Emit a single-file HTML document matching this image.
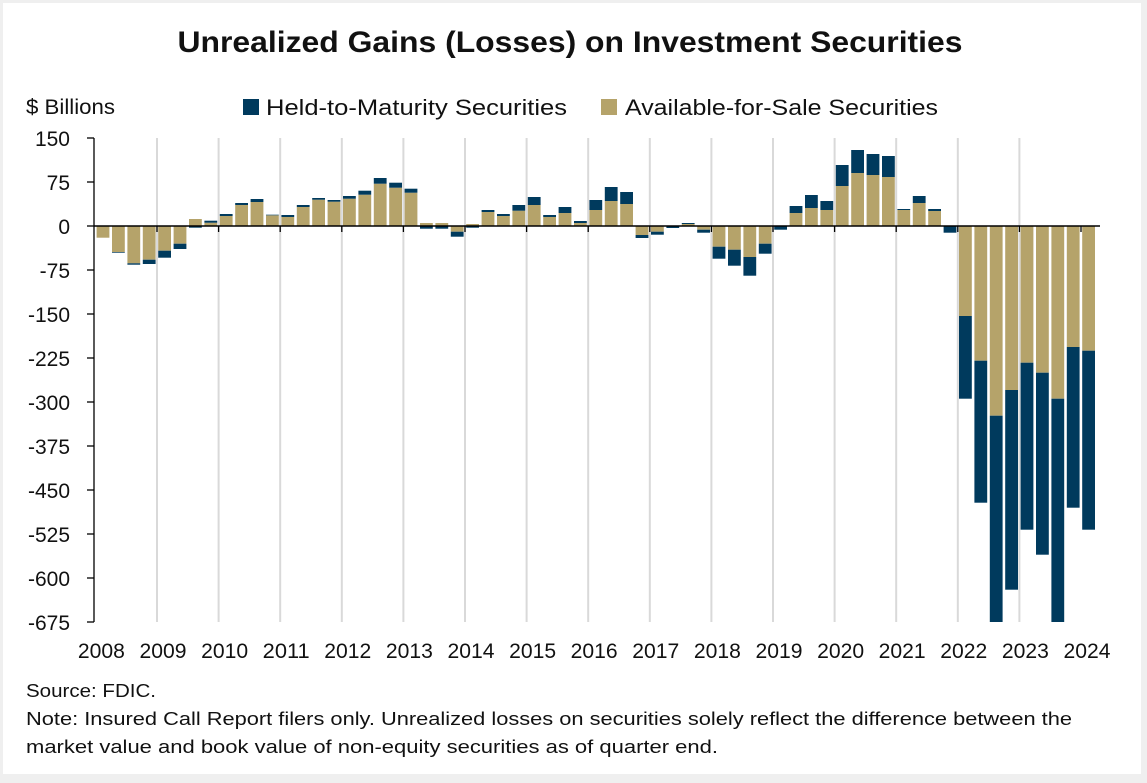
<!DOCTYPE html>
<html><head><meta charset="utf-8"><style>
html,body{margin:0;padding:0;background:#efefef;}
#c{position:absolute;left:3px;top:3px;width:1138px;height:771px;background:#fff;}
svg{position:absolute;left:0;top:0;}
text{font-family:"Liberation Sans",sans-serif;fill:#111;}
</style></head><body><div id="c"></div>
<svg id="s" width="1147" height="783" viewBox="0 0 1147 783" xmlns="http://www.w3.org/2000/svg">
<text x="570" y="52" text-anchor="middle" font-size="30" font-weight="bold" textLength="785" lengthAdjust="spacingAndGlyphs">Unrealized Gains (Losses) on Investment Securities</text>
<text x="26" y="114" font-size="21" textLength="89" lengthAdjust="spacingAndGlyphs">$ Billions</text>
<rect x="243" y="99" width="16" height="16" fill="#003a5d"/>
<text x="266" y="115" font-size="22" textLength="301" lengthAdjust="spacingAndGlyphs">Held-to-Maturity Securities</text>
<rect x="601" y="99" width="16" height="16" fill="#b5a36a"/>
<text x="625" y="115" font-size="22" textLength="313" lengthAdjust="spacingAndGlyphs">Available-for-Sale Securities</text>
<g id="grid"></g><g id="bars"></g><g id="axes"></g>
<text x="26" y="697" font-size="18" textLength="130" lengthAdjust="spacingAndGlyphs">Source: FDIC.</text>
<text x="26" y="725" font-size="18" textLength="1046" lengthAdjust="spacingAndGlyphs">Note: Insured Call Report filers only. Unrealized losses on securities solely reflect the difference between the</text>
<text x="26" y="753" font-size="18" textLength="692" lengthAdjust="spacingAndGlyphs">market value and book value of non-equity securities as of quarter end.</text>
</svg>
<script>
var NS="http://www.w3.org/2000/svg";
function el(p,t,a,txt){var e=document.createElementNS(NS,t);for(var k in a)e.setAttribute(k,a[k]);if(txt!=null)e.textContent=txt;document.getElementById(p).appendChild(e);}
var Z=226,X0=95.4,YW=61.6,BOT=622;
var d=[[-11.7,-11.7],[-26,-26.7],[-37.3,-38.7],[-33.7,-38],
[-24.7,-31.7],[-17.7,-23],[7,-1.7],[3.3,5.3],
[10,12],[21,23],[24,27],[10.7,11.3],
[9,11],[19,21],[26.3,28],[24.3,26],
[27.3,30],[31.3,35.3],[42.3,48],[38.3,43.3],
[33.3,37.3],[3,-2.7],[3,-2.7],[-5.7,-10.7],
[2,-1.7],[14,16],[10,12],[15.3,21],
[21,29],[9,11],[13,19],[3,5],
[16,26],[25,39],[22,34],[-9,-12],
[-5.7,-8.7],[0,-2],[2,3],[-3.7,-6.7],
[-20.7,-32.7],[-23.7,-39.7],[-31,-49.7],[-17.7,-27.7],
[0,-3.7],[13,20],[18,31],[16,25],
[40,61],[53,76],[51,72],[49,70],
[16,17],[23,30],[15,17],[0,-6.7],
[-90,-172.7],[-134.7,-276.7],[-189.7,-400],[-164,-363.7],
[-136.7,-303.7],[-146.7,-328.7],[-172.7,-400],[-121,-281.7],
[-124.7,-303.7]];
for(var k=1;k<=15;k++){var gx=X0+YW*k;el("grid","line",{x1:gx,x2:gx,y1:138,y2:622,stroke:"#d9d9d9","stroke-width":2});}
function seg(y1,y2,c,x){var a=Math.min(y1,y2),b=Math.max(y1,y2);b=Math.min(b,BOT);if(b-a<0.2)return;el("bars","rect",{x:x,y:a,width:12.8,height:b-a,fill:c});}
d.forEach(function(v,i){var x=X0+YW*Math.floor(i/4)+1.2+(i%4)*15.4;var A=v[0],E=v[1];
 seg(Z,Z-A,"#b5a36a",x);
 if(A===0||(A>0)===(E>0)) seg(Z-A,Z-E,"#003a5d",x); else seg(Z,Z-E,"#003a5d",x);});
el("axes","line",{x1:94,x2:94,y1:138,y2:622,stroke:"#000","stroke-width":1.3});
el("axes","line",{x1:94,x2:1100,y1:Z,y2:Z,stroke:"#000","stroke-width":1.5});
for(var k=1;k<=16;k++){var gx=X0+YW*k;el("axes","line",{x1:gx,x2:gx,y1:Z,y2:Z+6,stroke:"#000","stroke-width":1.3});}
for(var j=0;j<12;j++){var y=138+44*j,v=150-75*j;el("axes","line",{x1:87,x2:94,y1:y,y2:y,stroke:"#000","stroke-width":1.3});
 el("axes","text",{x:70,y:y+8,"text-anchor":"end","font-size":21},String(v));}
for(var k=0;k<=16;k++){el("axes","text",{x:X0+YW*k+6,y:658,"text-anchor":"middle","font-size":21,textLength:47,lengthAdjust:"spacingAndGlyphs"},String(2008+k));}
</script>
</body></html>
